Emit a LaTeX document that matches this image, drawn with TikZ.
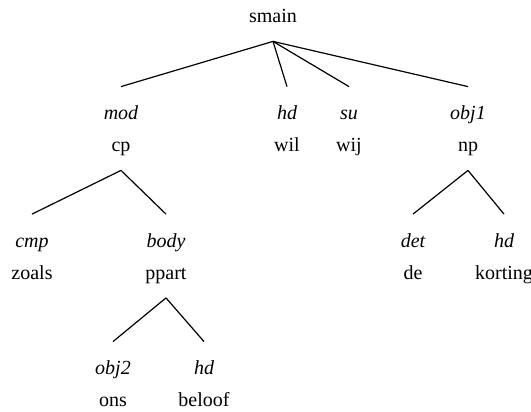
\documentclass[tikz,border=0pt]{standalone}
\usepackage{fontspec}
\setmainfont{Liberation Serif}
\usetikzlibrary{positioning}

\begin{document}
\begin{tikzpicture}[x=0.5pt, y=-0.5pt, font=\normalsize,
    word/.style={anchor=base, inner xsep=0pt, inner ysep=7.25pt,
                 text height=7pt, text depth=2pt},
    lab/.style={anchor=base, inner xsep=0pt, inner ysep=9.25pt,
                text height=7pt, text depth=2pt, font=\itshape},
    edge/.style={line width=0.6pt}]
    \useasboundingbox (0,0) rectangle (531,412);
    % top
    \node[word] (smain) at (273,22.5) {smain};
    % first level
    \node[lab]  (mod)   at (121,119.5) {mod};
    \node[word] (cp)    at (121,151.5) {cp};
    \node[lab]  (hd1)   at (287,119.5) {hd};
    \node[word] (wil)   at (287,151.5) {wil};
    \node[lab]  (su)    at (349,119.5) {su};
    \node[word] (wij)   at (349,151.5) {wij};
    \node[lab]  (obj1)  at (468,119.5) {obj1};
    \node[word] (np)    at (468,151.5) {np};
    % second level
    \node[lab]  (cmp)     at (32,247) {cmp};
    \node[word] (zoals)   at (32,279) {zoals};
    \node[lab]  (body)    at (166,247) {body};
    \node[word] (ppart)   at (166,279) {ppart};
    \node[lab]  (det)     at (413,247) {det};
    \node[word] (de)      at (413,279) {de};
    \node[lab]  (hd2)     at (504,247) {hd};
    \node[word] (korting) at (504,279) {korting};
    % third level
    \node[lab]  (obj2)   at (113,374.5) {obj2};
    \node[word] (ons)    at (113,406.5) {ons};
    \node[lab]  (hd3)    at (204,374.5) {hd};
    \node[word] (beloof) at (204,406.5) {beloof};
    % branches
    \foreach \c in {mod, hd1, su, obj1}
        \draw[edge] (smain.south) -- (\c.north);
    \draw[edge] (cp.south) -- (cmp.north);
    \draw[edge] (cp.south) -- (body.north);
    \draw[edge] (np.south) -- (det.north);
    \draw[edge] (np.south) -- (hd2.north);
    \draw[edge] (ppart.south) -- (obj2.north);
    \draw[edge] (ppart.south) -- (hd3.north);
\end{tikzpicture}
\end{document}
